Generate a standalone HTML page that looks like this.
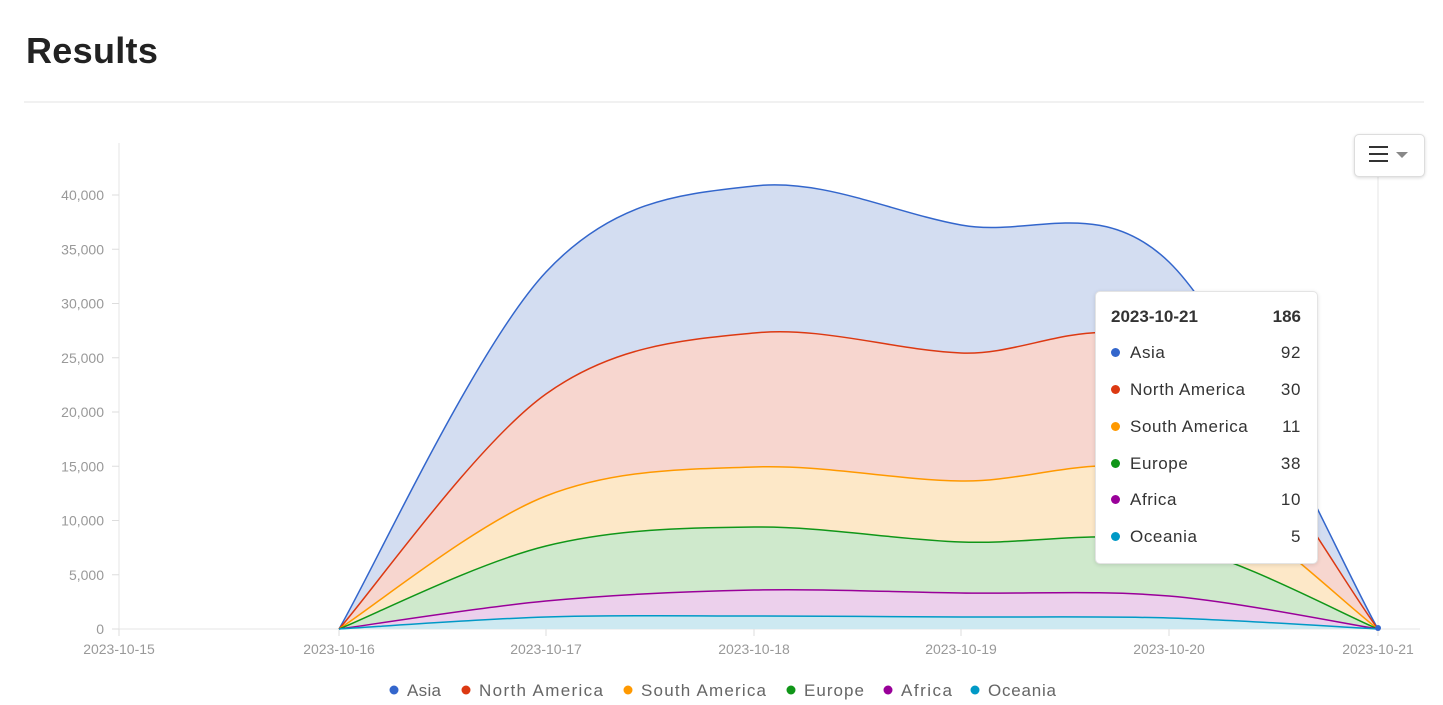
<!DOCTYPE html>
<html><head><meta charset="utf-8"><style>
body{margin:0;width:1443px;height:705px;background:#fff;font-family:"Liberation Sans",sans-serif;overflow:hidden;position:relative}
h1{position:absolute;left:26px;top:30px;margin:0;font-size:36px;font-weight:bold;color:#222;letter-spacing:0.3px}
.hr{position:absolute;left:24px;top:101px;width:1400px;height:2px;background:#f1f1f1}
.tt{position:absolute;left:1095px;top:291px;width:221px;height:271px;background:#fff;border:1px solid #e4e4e4;border-radius:5px;box-shadow:0 1px 4px rgba(0,0,0,.12);font-size:17px;color:#333;letter-spacing:0.6px}
.row{position:absolute;left:15px;right:16px;height:24px}
.row span.v{position:absolute;right:0}
.dot{display:inline-block;width:9px;height:9px;border-radius:50%;margin-right:10px;vertical-align:1px}
.menu{position:absolute;left:1354px;top:134px;width:69px;height:41px;border:1px solid #ddd;border-radius:5px;background:#fff;box-shadow:0 1px 3px rgba(0,0,0,.15)}
</style></head><body>
<h1>Results</h1><div class="hr"></div>
<svg id="s" width="1443" height="705" style="position:absolute;left:0;top:0"></svg>
<div class="menu"><div style="position:absolute;left:14px;top:11px;width:19px;height:2px;background:#333;box-shadow:0 7px 0 #333,0 14px 0 #333"></div><div style="position:absolute;left:41px;top:17px;border-left:6px solid transparent;border-right:6px solid transparent;border-top:6px solid #888"></div></div>
<div class="tt">
<div class="row" style="top:15px;font-weight:bold;letter-spacing:0">2023-10-21<span class="v">186</span></div>
<div class="row" style="top:51px"><span class="dot" style="background:#3366cc"></span>Asia<span class="v">92</span></div>
<div class="row" style="top:88px"><span class="dot" style="background:#dc3912"></span>North America<span class="v">30</span></div>
<div class="row" style="top:125px"><span class="dot" style="background:#ff9900"></span>South America<span class="v">11</span></div>
<div class="row" style="top:162px"><span class="dot" style="background:#109618"></span>Europe<span class="v">38</span></div>
<div class="row" style="top:198px"><span class="dot" style="background:#990099"></span>Africa<span class="v">10</span></div>
<div class="row" style="top:235px"><span class="dot" style="background:#0099c6"></span>Oceania<span class="v">5</span></div>
</div>
<script>
var s=document.getElementById('s'),h='';
var X=[339,546,754,961,1169,1378];
var S=[
['#3366cc','#d3ddf1',[629,272,186,225,262,629]],
['#dc3912','#f7d6cf',[629,394,333,353,352,629]],
['#ff9900','#fde8c8',[629,496,467,481,475,629]],
['#109618','#cfe9cc',[629,546,527,542,543,629]],
['#990099','#ecd0ec',[629,601,590,593,596,629]],
['#0099c6','#cde9f1',[629,617,616,617,618,629]]];
function path(Y){var d='M'+X[0]+','+Y[0];for(var i=0;i<5;i++){var p0=i?[X[i-1],Y[i-1]]:[X[0],Y[0]],p1=[X[i],Y[i]],p2=[X[i+1],Y[i+1]],p3=i<4?[X[i+2],Y[i+2]]:p2;var t=6;d+=' C'+(p1[0]+(p2[0]-p0[0])/t)+','+(p1[1]+(p2[1]-p0[1])/t)+' '+(p2[0]-(p3[0]-p1[0])/t)+','+(p2[1]-(p3[1]-p1[1])/t)+' '+p2[0]+','+p2[1];}return d;}
h+='<line x1="119" y1="143" x2="119" y2="629" stroke="#e6e6e6"/><line x1="119" y1="629" x2="1420" y2="629" stroke="#e6e6e6"/><line x1="1378" y1="176" x2="1378" y2="629" stroke="#e6e6e6"/>';
for(var k=0;k<=8;k++){var y=629-k*54.25;h+='<line x1="112" x2="119" y1="'+y+'" y2="'+y+'" stroke="#ddd"/><text x="104" y="'+(y+5)+'" text-anchor="end" font-size="14" fill="#999">'+(k?(k*5)+',000':'0')+'</text>';}
var D=['2023-10-15','2023-10-16','2023-10-17','2023-10-18','2023-10-19','2023-10-20','2023-10-21'];
for(var k=0;k<7;k++){var x=k?X[k-1]:119;h+='<line x1="'+x+'" x2="'+x+'" y1="629" y2="636" stroke="#ddd"/><text x="'+x+'" y="654" text-anchor="middle" font-size="14" fill="#999">'+D[k]+'</text>';}
for(var i=0;i<6;i++){h+='<path d="'+path(S[i][2])+' L1378,629 L339,629 Z" fill="'+S[i][1]+'"/>';}
for(var i=0;i<6;i++){h+='<path d="'+path(S[i][2])+'" fill="none" stroke="'+S[i][0]+'" stroke-width="1.5"/>';}
h+='<circle cx="1378" cy="628" r="3" fill="#3366cc"/>';
var L=[['Asia',394,34],['North America',466,124],['South America',628,125],['Europe',791,60],['Africa',888,51],['Oceania',975,68]];
for(var i=0;i<6;i++){h+='<circle cx="'+L[i][1]+'" cy="690" r="4.5" fill="'+S[i][0]+'"/><text x="'+(L[i][1]+13)+'" y="696" font-size="17" fill="#666" textLength="'+L[i][2]+'" lengthAdjust="spacing">'+L[i][0]+'</text>';}
s.innerHTML=h;
</script>
</body></html>
